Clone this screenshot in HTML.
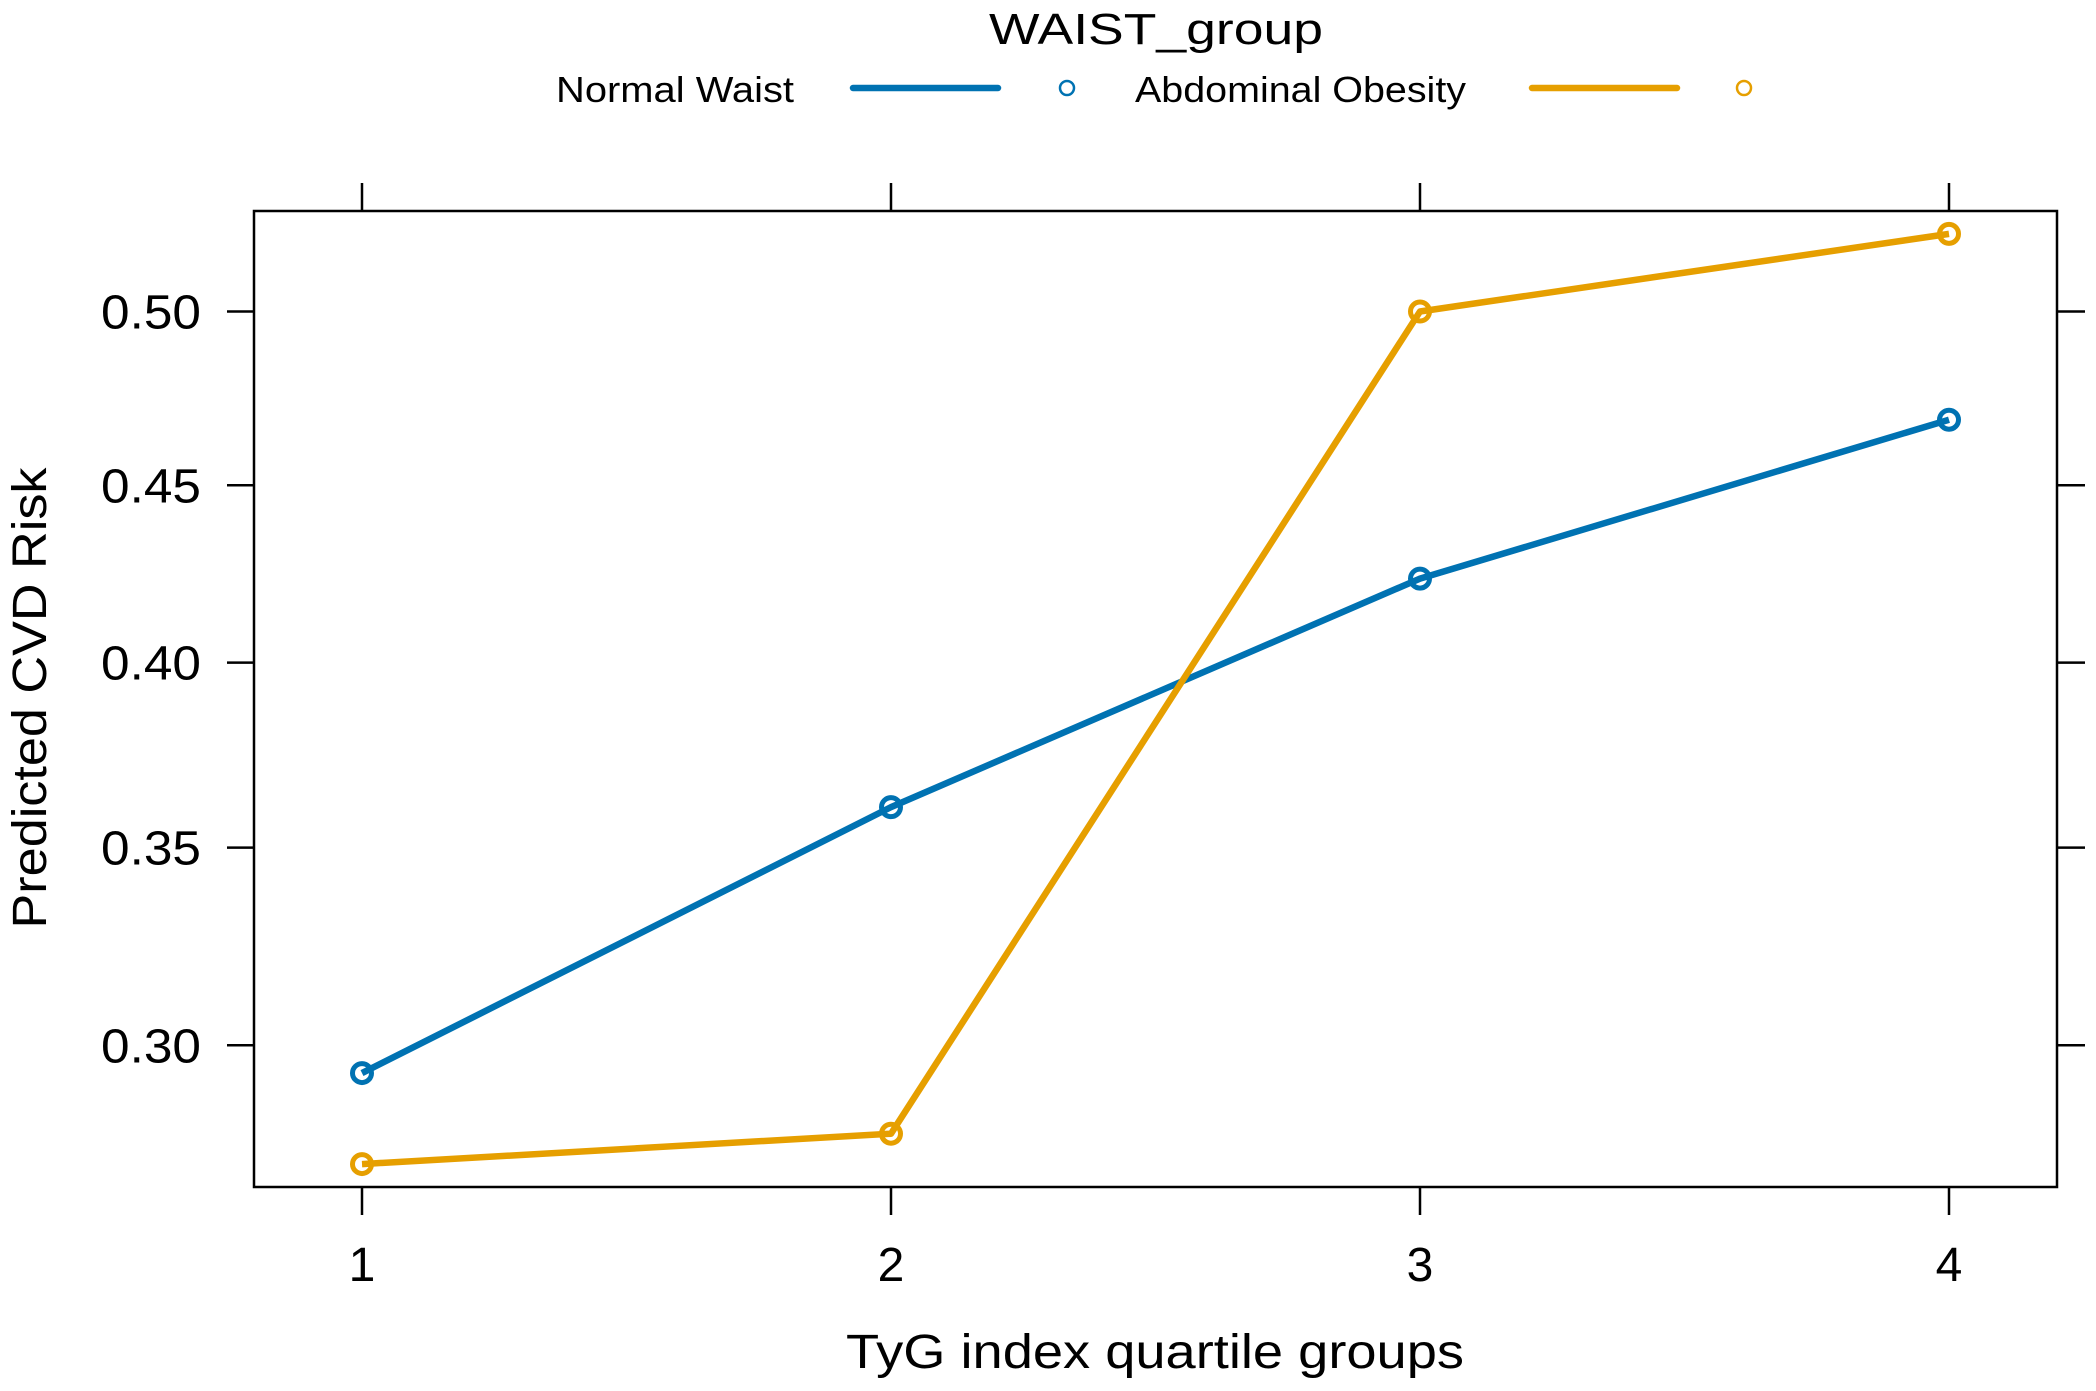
<!DOCTYPE html>
<html><head><meta charset="utf-8"><style>
html,body{margin:0;padding:0;background:#fff;}
svg{display:block;font-family:"Liberation Sans",Arial,sans-serif;}
</style></head><body>
<svg id="chart" width="2096" height="1391" viewBox="0 0 2096 1391" xmlns="http://www.w3.org/2000/svg">
<rect x="0" y="0" width="2096" height="1391" fill="#fff"/>
<g>
<text x="1156" y="44" font-size="44" text-anchor="middle" textLength="334" lengthAdjust="spacingAndGlyphs">WAIST_group</text>
<g>
<text x="556" y="102" font-size="36" textLength="238" lengthAdjust="spacingAndGlyphs">Normal Waist</text>
<line x1="853" y1="88" x2="998" y2="88" stroke="#0072B2" stroke-width="6.5" stroke-linecap="round"/>
<circle cx="1067" cy="88" r="7" fill="none" stroke="#0072B2" stroke-width="2.5"/>
</g>
<g>
<text x="1135" y="102" font-size="36" textLength="331" lengthAdjust="spacingAndGlyphs">Abdominal Obesity</text>
<line x1="1532" y1="88" x2="1677" y2="88" stroke="#E69F00" stroke-width="6.5" stroke-linecap="round"/>
<circle cx="1744" cy="88" r="7" fill="none" stroke="#E69F00" stroke-width="2.5"/>
</g>
</g>
<g id="axes"></g>
<g id="series"></g>
<text x="1155" y="1368" font-size="48" text-anchor="middle" textLength="618" lengthAdjust="spacingAndGlyphs">TyG index quartile groups</text>
<text transform="translate(46,698) rotate(-90)" font-size="48" text-anchor="middle" textLength="461" lengthAdjust="spacingAndGlyphs">Predicted CVD Risk</text>
</svg>
<script>
const categories = [1, 2, 3, 4];
const normalWaist = [0.2933, 0.3607, 0.4235, 0.4688];
const abdominalObesity = [0.2720, 0.2790, 0.5000, 0.5224];
const yTicks = [0.30, 0.35, 0.40, 0.45, 0.50];
const yTickLabels = ["0.30", "0.35", "0.40", "0.45", "0.50"];
const xTickLabels = ["1", "2", "3", "4"];

const NS = "http://www.w3.org/2000/svg";
const box = {l:254, r:2057, t:211, b:1187};
const logit = p => Math.log(p/(1-p));
const y0 = 311.5, pxPerLogit = 866;
function yScale(p){ return y0 - logit(p)*pxPerLogit; }
const x1 = 362, xStep = 529;
function xScale(c){ return x1 + (c-1)*xStep; }

function mk(tag, attrs, parent){
  const e = document.createElementNS(NS, tag);
  for (const k in attrs) e.setAttribute(k, attrs[k]);
  parent.appendChild(e);
  return e;
}
const axes = document.getElementById('axes');
const frame = mk('rect', {x:box.l, y:box.t, width:box.r-box.l, height:box.b-box.t, fill:'none', stroke:'#000', 'stroke-width':2.5}, axes);



categories.forEach((c, i) => {
  const x = xScale(c);
  const tb = mk('line', {x1:x, x2:x, y1:box.b, y2:box.b+28, stroke:'#000', 'stroke-width':2.5}, axes);
  
  
  const tt = mk('line', {x1:x, x2:x, y1:box.t-28, y2:box.t, stroke:'#000', 'stroke-width':2.5}, axes);
  
  
  const lb = mk('text', {x:x, y:1281, 'font-size':48, 'text-anchor':'middle'}, axes);
  lb.textContent = xTickLabels[i];
  
  
});
yTicks.forEach((v, i) => {
  const y = yScale(v);
  const tl = mk('line', {x1:box.l-27, x2:box.l, y1:y, y2:y, stroke:'#000', 'stroke-width':2.5}, axes);
  
  
  const tr = mk('line', {x1:box.r, x2:box.r+28, y1:y, y2:y, stroke:'#000', 'stroke-width':2.5}, axes);
  
  
  const lb = mk('text', {x:201, y:y+17, 'font-size':48, 'text-anchor':'end', textLength:100, lengthAdjust:'spacingAndGlyphs'}, axes);
  lb.textContent = yTickLabels[i];
  
  
});

const seriesG = document.getElementById('series');
function drawSeries(vals, color, name){
  const g = mk('g', {}, seriesG);
  
  
  const pts = vals.map((v, i) => xScale(categories[i]) + ',' + yScale(v)).join(' ');
  const pl = mk('polyline', {points:pts, fill:'none', stroke:color, 'stroke-width':6.5, 'stroke-linejoin':'round'}, g);
  
  
  vals.forEach((v, i) => {
    const c = mk('circle', {cx:xScale(categories[i]), cy:yScale(v), r:9.5, fill:'none', stroke:color, 'stroke-width':5}, g);
    
    
  });
}
drawSeries(normalWaist, '#0072B2', 'normal-waist-series');
drawSeries(abdominalObesity, '#E69F00', 'abdominal-obesity-series');
</script>
</body></html>
